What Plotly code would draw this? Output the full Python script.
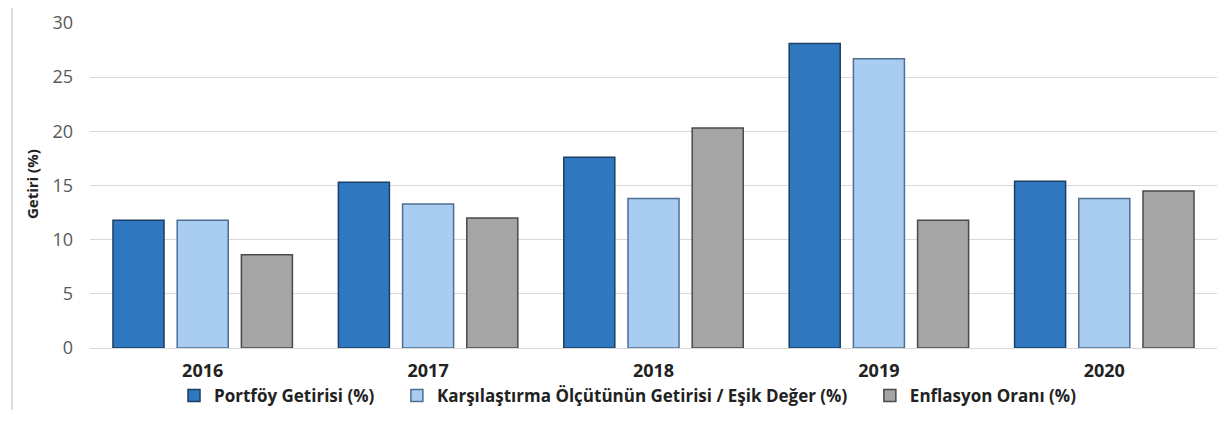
import plotly.graph_objects as go

years = ["2016", "2017", "2018", "2019", "2020"]
portfoy = [11.8, 15.3, 17.6, 28.1, 15.4]
karsilastirma = [11.8, 13.3, 13.8, 26.7, 13.8]
enflasyon = [8.6, 12.0, 20.3, 11.8, 14.5]

series_names = [
    "Portföy Getirisi (%)",
    "Karşılaştırma Ölçütünün Getirisi / Eşik Değer (%)",
    "Enflasyon Oranı (%)",
]
fills = ["#2F78BF", "#A8CDF1", "#A5A5A5"]
edges = ["#1B3F66", "#4E6F91", "#4A4A4A"]

# page body has an 8px default margin; compensate so the plot area lands at
# x 90..1217, y 23..348 in the window
OFF = 8
X0, X1, Y0, Y1 = 90, 1217, 23, 348
L, R, T, B = X0 - OFF, 1226 - X1 + OFF, Y0 - OFF, 422 - Y1 + OFF
PW = 1226 - L - R
PH = 422 - T - B

fig = go.Figure()
for i, (name, vals, c, e) in enumerate(zip(series_names, [portfoy, karsilastirma, enflasyon], fills, edges)):
    pad = "\u00a0" * 4 if i < 2 else ""
    fig.add_trace(go.Bar(
        x=years, y=vals, name="<b>" + name + "</b>" + pad,
        marker=dict(color=c, line=dict(color=e, width=1.5)),
    ))

fig.update_layout(
    width=1226, height=422,
    margin=dict(l=L, r=R, t=T, b=B, autoexpand=False),
    paper_bgcolor="white", plot_bgcolor="white",
    barmode="group", bargap=0.1455, bargroupgap=0.205,
    font=dict(family="Open Sans, Liberation Sans, sans-serif", color="#404040"),
    showlegend=True,
    legend=dict(
        orientation="h", x=(628 - X0) / PW, xanchor="center",
        y=-(396 - Y1) / PH, yanchor="middle",
        font=dict(size=17, color="#222222", family="Open Sans"),
        itemwidth=30, traceorder="normal", tracegroupgap=0,
    ),
    xaxis=dict(
        showgrid=False, showline=False, zeroline=False, automargin=False,
        tickfont=dict(size=18, color="#222222", family="Open Sans"),
        tickprefix="<b>", ticksuffix="</b>", ticklabelstandoff=10,
    ),
    yaxis=dict(
        range=[0, 30], dtick=5, showgrid=True, gridcolor="#D9D9D9", gridwidth=1,
        zeroline=True, zerolinecolor="#D9D9D9", zerolinewidth=1,
        showline=False, ticks="", ticklen=0, automargin=False,
        tickfont=dict(size=18, color="#595959"), ticklabelstandoff=16,
    ),
    annotations=[dict(
        text="<b>Getiri (%)</b>", textangle=-90, xref="paper", yref="paper",
        x=(32 - X0) / PW, y=(Y1 - 184) / PH, xanchor="center", yanchor="middle",
        showarrow=False, font=dict(size=15, color="#222222"),
    )],
    shapes=[dict(
        type="line", xref="paper", yref="paper",
        x0=(12 - X0) / PW, x1=(12 - X0) / PW, y0=-(410 - Y1) / PH, y1=Y1 / PH + 0.05,
        line=dict(color="#D0D0D0", width=1.5),
    )],
)

fig.write_html("out.html")
